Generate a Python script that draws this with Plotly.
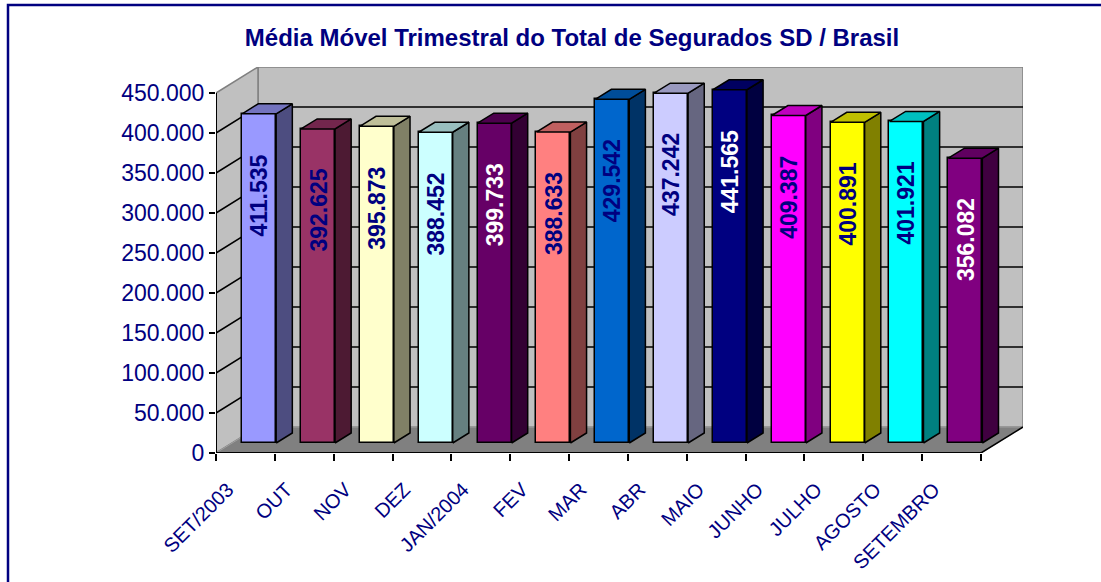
import plotly.graph_objects as go

# ---------------- data ----------------
categories = ["SET/2003", "OUT", "NOV", "DEZ", "JAN/2004", "FEV", "MAR",
              "ABR", "MAIO", "JUNHO", "JULHO", "AGOSTO", "SETEMBRO"]
values = [411535, 392625, 395873, 388452, 399733, 388633, 429542,
          437242, 441565, 409387, 400891, 401921, 356082]
y_tick_values = [0, 50000, 100000, 150000, 200000, 250000, 300000,
                 350000, 400000, 450000]
title_text = "Média Móvel Trimestral do Total de Segurados SD / Brasil"

# ---------------- styles ----------------
front_colors = ["#9999FF", "#993366", "#FFFFCC", "#CCFFFF", "#660066", "#FF8080", "#0066CC",
                "#CCCCFF", "#000080", "#FF00FF", "#FFFF00", "#00FFFF", "#800080"]
side_colors = ["#4D4D80", "#4D1A33", "#808066", "#668080", "#330033", "#804040", "#003366",
               "#666680", "#000040", "#800080", "#808000", "#008080", "#400040"]
top_colors = ["#7373BF", "#73264D", "#BFBF99", "#99BFBF", "#4D004D", "#BF6060", "#004D99",
              "#9999BF", "#000060", "#BF00BF", "#BFBF00", "#00BFBF", "#600060"]
label_colors = ["#000080", "#000080", "#000080", "#000080", "#FFFFFF", "#000080", "#000080",
                "#000080", "#FFFFFF", "#000080", "#000080", "#000080", "#FFFFFF"]
NAVY = "#000080"

W, H = 1101, 582
L, R, T, B = 216, 78, 67, 129
plot_w = W - L - R
plot_h = H - T - B

n = len(categories)
y_top = y_tick_values[-1]
x_lo = -0.5
x_front_hi = n - 0.5
px_per_cat = 58.84
DX = 42 / px_per_cat               # depth offset in category units
px_per_val = 0.8 / 1000
DY = 26 / px_per_val               # depth offset in value units
x_hi = x_front_hi + DX
y_hi = y_top + DY

d_front = 10 / 26                  # bar front plane depth fraction
d_back = 20 / 26
bar_w = 0.578
bar_c0 = -0.041
bdx = (d_back - d_front) * DX
bdy = (d_back - d_front) * DY
base = d_front * DY


def fmt(v):
    return f"{v:,}".replace(",", ".")


fig = go.Figure()

# ---- walls, floor, gridlines (shapes below traces) ----
shapes = []
gray = "#808080"
shapes.append(dict(type="path", layer="below", xref="x", yref="y",
                   path=f"M {x_lo+DX},{DY} L {x_hi},{DY} L {x_hi},{y_hi} L {x_lo+DX},{y_hi} Z",
                   fillcolor="#C0C0C0", line=dict(color=gray, width=1.5)))
shapes.append(dict(type="path", layer="below", xref="x", yref="y",
                   path=f"M {x_lo},0 L {x_lo+DX},{DY} L {x_lo+DX},{y_hi} L {x_lo},{y_top} Z",
                   fillcolor="#C0C0C0", line=dict(color=gray, width=1.5)))
shapes.append(dict(type="path", layer="below", xref="x", yref="y",
                   path=f"M {x_lo},0 L {x_front_hi},0 L {x_hi},{DY} L {x_lo+DX},{DY} Z",
                   fillcolor="#808080", line=dict(color="#A0A0A0", width=1)))
for v in y_tick_values[1:-1]:
    shapes.append(dict(type="path", layer="below", xref="x", yref="y",
                       path=f"M {x_lo},{v} L {x_lo+DX},{v+DY} L {x_hi},{v+DY}",
                       line=dict(color="black", width=1.5)))
# front edges
shapes.append(dict(type="line", layer="below", xref="x", yref="y",
                   x0=x_lo, y0=0, x1=x_lo, y1=y_top, line=dict(color="black", width=2)))
shapes.append(dict(type="line", layer="below", xref="x", yref="y",
                   x0=x_lo, y0=0, x1=x_front_hi, y1=0, line=dict(color="black", width=2)))
shapes.append(dict(type="line", layer="below", xref="x", yref="y",
                   x0=x_front_hi, y0=0, x1=x_hi, y1=DY, line=dict(color="black", width=1.5)))

# outer frame (navy border)
def pxx(p):
    return (p - L) / plot_w


def pxy(p):
    return (H - B - p) / plot_h


shapes.append(dict(type="rect", xref="paper", yref="paper", layer="above",
                   x0=pxx(8), y0=pxy(700), x1=pxx(1200), y1=pxy(5),
                   line=dict(color=NAVY, width=2.5), fillcolor="rgba(0,0,0,0)"))

# ---- bars: front faces ----
centers = [k + bar_c0 + d_front * DX for k in range(n)]
fig.add_trace(go.Bar(
    x=centers, y=values, base=base, width=bar_w,
    marker=dict(color=front_colors, line=dict(color="black", width=1.5)),
    hoverinfo="skip", showlegend=False))

# ---- bars: side & top faces ----
for k in range(n):
    v = values[k]
    xl = centers[k] - bar_w / 2
    xr = centers[k] + bar_w / 2
    yb = base
    yt = base + v
    fig.add_trace(go.Scatter(
        x=[xr, xr + bdx, xr + bdx, xr, xr],
        y=[yb, yb + bdy, yt + bdy, yt, yb],
        mode="lines", fill="toself", fillcolor=side_colors[k],
        line=dict(color="black", width=1.5), hoverinfo="skip", showlegend=False))
    fig.add_trace(go.Scatter(
        x=[xl, xr, xr + bdx, xl + bdx, xl],
        y=[yt, yt, yt + bdy, yt + bdy, yt],
        mode="lines", fill="toself", fillcolor=top_colors[k],
        line=dict(color="black", width=1.5), hoverinfo="skip", showlegend=False))

# ---- value labels ----
annotations = []
for k in range(n):
    annotations.append(dict(
        x=centers[k], y=base + values[k] - 102000, xref="x", yref="y",
        text=f"<b>{fmt(values[k])}</b>", textangle=-90, showarrow=False,
        font=dict(family="Liberation Sans, Arial", size=23, color=label_colors[k]),
        xanchor="center", yanchor="middle"))

fig.update_layout(
    width=W, height=H,
    margin=dict(l=L, r=R, t=T, b=B, pad=0, autoexpand=False),
    paper_bgcolor="white", plot_bgcolor="rgba(0,0,0,0)",
    font=dict(family="Liberation Sans, Arial", color=NAVY),
    title=dict(text=f"<b>{title_text}</b>", x=572 / W, xanchor="center",
               y=1 - 38 / H, yanchor="middle",
               font=dict(family="Liberation Sans, Arial", size=24, color=NAVY)),
    shapes=shapes, annotations=annotations,
    bargap=0, showlegend=False,
    xaxis=dict(range=[x_lo, x_hi], showgrid=False, zeroline=False, showline=False,
               automargin=False,
               tickmode="array", tickvals=[k - 0.3 for k in range(n)], ticktext=categories,
               tickangle=-45, ticks="", ticklabelstandoff=20,
               tickfont=dict(size=20, color=NAVY),
               minor=dict(tickmode="array", tickvals=[k - 0.5 for k in range(n + 1)],
                          ticks="outside", ticklen=7, tickwidth=1.5, tickcolor="black"),
               fixedrange=True),
    yaxis=dict(range=[0, y_hi], showgrid=False, zeroline=False, showline=False,
               automargin=False,
               tickmode="array", tickvals=y_tick_values,
               ticktext=[fmt(v) for v in y_tick_values],
               ticks="outside", ticklen=6, tickwidth=1.5, tickcolor="black",
               tickfont=dict(size=23, color=NAVY), fixedrange=True),
)

fig.write_html("out.html", config={"displayModeBar": False},
               post_script="document.body.style.margin='0';")
